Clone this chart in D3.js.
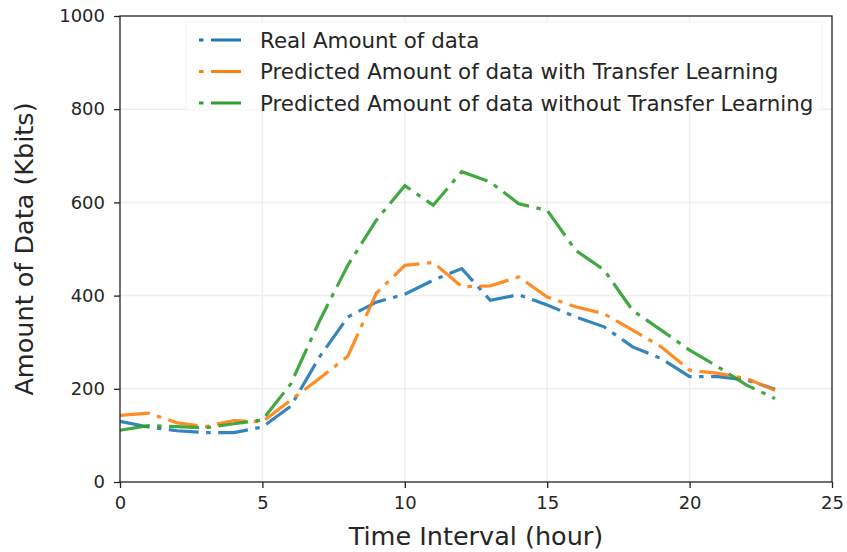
<!DOCTYPE html>
<html>
<head>
<meta charset="utf-8">
<script src="https://cdn.jsdelivr.net/npm/d3@7"></script>
<style>
  body { margin: 0; background: #fff; }
  svg { display: block; font-family: "DejaVu Sans", sans-serif; }
</style>
</head>
<body>
<svg width="847" height="552"></svg>
<script>
// data
var hours = d3.range(0, 24);
var realData = [130, 118, 110, 106, 106, 118, 163, 268, 354, 386, 403, 433, 458, 390, 402, 380, 354, 333, 290, 265, 226, 226, 219, 199];
var withTL = [143, 148, 127, 119, 132, 129, 176, 222, 270, 405, 465, 471, 419, 421, 440, 397, 376, 361, 326, 290, 240, 233, 222, 197];
var withoutTL = [111, 121, 119, 116, 125, 133, 211, 345, 465, 562, 636, 594, 666, 644, 597, 583, 497, 455, 368, 326, 283, 247, 208, 179];

var seriesNames = ['Real Amount of data',
    'Predicted Amount of data with Transfer Learning',
    'Predicted Amount of data without Transfer Learning'];
var seriesColors = ['#1f77b4', '#ff7f0e', '#2ca02c'];
var xTicks = [0, 5, 10, 15, 20, 25];
var yTicks = [0, 200, 400, 600, 800, 1000];

var svg = d3.select('svg');
var margin = {left: 120, right: 15, top: 16, bottom: 70};
var width = 847 - margin.left - margin.right;
var height = 552 - margin.top - margin.bottom;

var x = d3.scaleLinear().domain([0, 25]).range([margin.left, margin.left + width]);
var y = d3.scaleLinear().domain([0, 1000]).range([margin.top + height, margin.top]);

// grid
svg.append('g').selectAll('line')
    .data(xTicks.slice(1, -1))
    .enter().append('line')
    .attr('x1', function(d){ return x(d); })
    .attr('x2', function(d){ return x(d); })
    .attr('y1', y(0)).attr('y2', y(1000))
    .attr('stroke', '#efefef').attr('stroke-width', 1.5);

svg.append('g').selectAll('line')
    .data(yTicks.slice(1, -1))
    .enter().append('line')
    .attr('y1', function(d){ return y(d); })
    .attr('y2', function(d){ return y(d); })
    .attr('x1', x(0)).attr('x2', x(25))
    .attr('stroke', '#efefef').attr('stroke-width', 1.5);

// lines
var line = d3.line()
    .x(function(d, i){ return x(hours[i]); })
    .y(function(d){ return y(d); });

var allSeries = [realData, withTL, withoutTL];
svg.append('g').selectAll('path')
    .data(allSeries)
    .enter().append('path')
    .attr('d', line)
    .attr('fill', 'none')
    .attr('stroke', function(d, i){ return seriesColors[i]; })
    .attr('stroke-width', 3.2)
    .attr('stroke-dasharray', '30,7.5,4.5,7.5')
    .attr('opacity', 0.9);

// axes
var xAxis = svg.append('g')
    .attr('transform', 'translate(0,' + y(0) + ')')
    .call(d3.axisBottom(x).tickValues(xTicks).tickSize(6).tickPadding(8));
var yAxis = svg.append('g')
    .attr('transform', 'translate(' + x(0) + ',0)')
    .call(d3.axisLeft(y).tickValues(yTicks).tickFormat(d3.format('d')).tickSize(6).tickPadding(9));

[xAxis, yAxis].forEach(function(a){
    a.select('.domain').remove();
    a.selectAll('line').attr('stroke', '#222').attr('stroke-width', 1.3);
    a.selectAll('text').attr('fill', '#262626').style('font-size', '18px')
        .style('font-family', '"DejaVu Sans", sans-serif');
});

// frame
svg.append('rect')
    .attr('x', x(0)).attr('y', y(1000))
    .attr('width', x(25) - x(0)).attr('height', y(0) - y(1000))
    .attr('fill', 'none').attr('stroke', '#222').attr('stroke-width', 1.3);

// axis labels
svg.append('text')
    .attr('x', (x(0) + x(25)) / 2).attr('y', 545)
    .attr('text-anchor', 'middle')
    .style('font-size', '25.5px').attr('fill', '#262626')
    .text('Time Interval (hour)');

svg.append('text')
    .attr('transform', 'translate(33,' + (y(0) + y(1000)) / 2 + ') rotate(-90)')
    .attr('text-anchor', 'middle')
    .style('font-size', '25.5px').attr('fill', '#262626')
    .text('Amount of Data (Kbits)');

// legend
var legend = svg.append('g');
legend.append('rect')
    .attr('x', 186).attr('y', 22).attr('width', 636).attr('height', 88)
    .attr('fill', '#fff').attr('stroke', '#f4f4f4').attr('stroke-width', 1);

var rows = legend.selectAll('g.row')
    .data(seriesNames)
    .enter().append('g')
    .attr('class', 'row')
    .attr('transform', function(d, i){ return 'translate(0,' + (40 + i * 31.5) + ')'; });

rows.append('line')
    .attr('x1', 199).attr('x2', 243).attr('y1', 0).attr('y2', 0)
    .attr('stroke', function(d, i){ return seriesColors[i]; })
    .attr('stroke-width', 3.2)
    .attr('stroke-dasharray', '4.5,7.5,30,7.5');

rows.append('text')
    .attr('x', 260).attr('y', 0)
    .attr('dy', '0.35em')
    .style('font-size', '21.4px').attr('fill', '#262626')
    .text(function(d){ return d; });
</script>
</body>
</html>
